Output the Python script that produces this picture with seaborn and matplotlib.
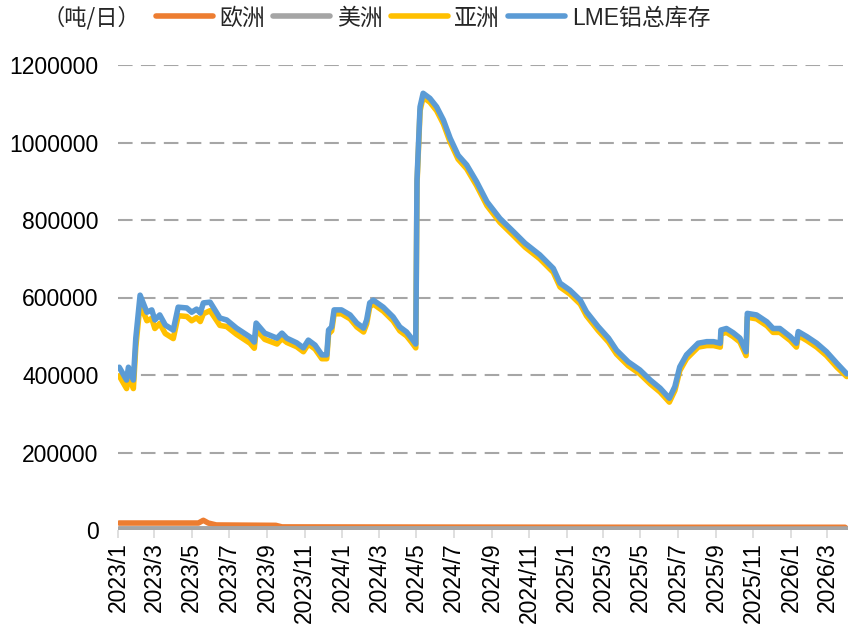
import pandas as pd
import numpy as np
import matplotlib.pyplot as plt
import matplotlib.dates as mdates
from matplotlib.ticker import FuncFormatter
import seaborn as sns

# ---------- data (tonnes) ----------
total_dates = [
    "2023-01-03", "2023-01-15", "2023-01-18", "2023-01-26", "2023-01-30", "2023-02-06",
    "2023-02-17", "2023-02-25", "2023-03-02", "2023-03-10", "2023-03-19", "2023-04-01",
    "2023-04-09", "2023-04-23", "2023-05-01", "2023-05-09", "2023-05-15", "2023-05-20",
    "2023-05-31", "2023-06-16", "2023-06-27", "2023-07-13", "2023-08-04", "2023-08-11",
    "2023-08-14", "2023-08-28", "2023-09-17", "2023-09-25", "2023-10-03", "2023-10-19",
    "2023-10-30", "2023-11-07", "2023-11-18", "2023-11-29", "2023-12-07", "2023-12-10",
    "2023-12-15", "2023-12-19", "2023-12-31", "2024-01-14", "2024-01-25", "2024-02-05",
    "2024-02-10", "2024-02-15", "2024-02-21", "2024-03-08", "2024-03-24", "2024-04-04",
    "2024-04-15", "2024-04-23", "2024-04-30", "2024-05-02", "2024-05-07", "2024-05-12",
    "2024-05-23", "2024-06-03", "2024-06-14", "2024-06-25", "2024-07-08", "2024-07-22",
    "2024-08-07", "2024-08-24", "2024-09-14", "2024-10-06", "2024-10-25", "2024-11-18",
    "2024-12-10", "2024-12-21", "2025-01-06", "2025-01-23", "2025-02-02", "2025-02-21",
    "2025-03-10", "2025-03-23", "2025-04-11", "2025-04-30", "2025-05-17", "2025-06-02",
    "2025-06-17", "2025-06-26", "2025-07-04", "2025-07-15", "2025-08-03", "2025-08-17",
    "2025-08-28", "2025-09-08", "2025-09-09", "2025-09-18", "2025-09-29", "2025-10-10",
    "2025-10-20", "2025-10-22", "2025-11-06", "2025-11-23", "2025-12-03", "2025-12-14",
    "2025-12-31", "2026-01-10", "2026-01-13", "2026-01-27", "2026-02-12", "2026-02-28",
    "2026-03-17", "2026-04-02",
]
total_stock = [
    420000, 387000, 420000, 387000, 495000, 606000,
    562000, 568000, 542000, 555000, 529000, 516000,
    575000, 573000, 562000, 570000, 560000, 586000,
    588000, 547000, 542000, 521000, 498000, 485000,
    534000, 508000, 495000, 508000, 495000, 483000,
    470000, 490000, 477000, 452000, 452000, 516000,
    524000, 568000, 568000, 555000, 534000, 521000,
    542000, 586000, 593000, 575000, 550000, 524000,
    511000, 495000, 480000, 903000, 1092000, 1127000,
    1114000, 1092000, 1058000, 1011000, 967000, 942000,
    899000, 847000, 804000, 770000, 740000, 710000,
    675000, 637000, 619000, 593000, 563000, 525000,
    495000, 464000, 434000, 413000, 387000, 366000,
    340000, 370000, 421000, 452000, 482000, 486000,
    486000, 482000, 516000, 520000, 509000, 495000,
    460000, 559000, 555000, 537000, 520000, 520000,
    499000, 482000, 512000, 499000, 482000, 460000,
    430000, 403000,
]
asia_stock = [
    398000, 365000, 398000, 365000, 473000, 584000,
    540000, 546000, 520000, 533000, 507000, 494000,
    553000, 551000, 540000, 548000, 538000, 558000,
    566000, 528000, 525000, 505000, 482000, 469000,
    518000, 492000, 480000, 494000, 484000, 473000,
    460000, 480000, 467000, 442000, 442000, 506000,
    514000, 558000, 558000, 545000, 524000, 511000,
    532000, 576000, 583000, 565000, 540000, 514000,
    501000, 485000, 470000, 893000, 1082000, 1117000,
    1104000, 1082000, 1048000, 1001000, 957000, 932000,
    889000, 837000, 794000, 760000, 730000, 700000,
    665000, 627000, 609000, 583000, 553000, 515000,
    485000, 454000, 424000, 403000, 377000, 356000,
    330000, 360000, 411000, 442000, 472000, 476000,
    476000, 472000, 506000, 510000, 499000, 485000,
    450000, 549000, 545000, 527000, 510000, 510000,
    489000, 472000, 502000, 489000, 472000, 450000,
    420000, 396000,
]
europe_dates = [
    "2023-01-03", "2023-05-12", "2023-05-20", "2023-05-28", "2023-06-10", "2023-09-15",
    "2023-09-25", "2024-06-01", "2025-06-01", "2026-03-30", "2026-04-03",
]
europe_stock = [
    18000, 18000, 25000, 18000, 13000, 12000,
    8000, 7500, 7000, 7000, 2000,
]
america_dates = ["2023-01-03", "2024-06-01", "2025-06-01", "2026-04-03"]
america_stock = [3000, 3000, 2500, 2500]

series_names = ["欧洲", "美洲", "亚洲", "LME铝总库存"]
series_colors = ["#ED7D31", "#A5A5A5", "#FFC000", "#5B9BD5"]

# ---------- style ----------
sns.set_theme(style="white")
plt.rcParams["font.family"] = ["Liberation Sans", "Noto Sans CJK SC", "DejaVu Sans"]

fig = plt.figure(figsize=(8.48, 6.32), dpi=100)
ax = fig.add_axes([118 / 848, 1 - 530 / 632, 1 - 118 / 848, (530 - 65) / 632])

frames = [
    (europe_dates, europe_stock),
    (america_dates, america_stock),
    (total_dates, asia_stock),
    (total_dates, total_stock),
]
for (d, v), name, col in zip(frames, series_names, series_colors):
    df = pd.DataFrame({"date": pd.to_datetime(d), "value": v})
    sns.lineplot(data=df, x="date", y="value", ax=ax, color=col, linewidth=4,
                 label=name, legend=False, solid_capstyle="round", solid_joinstyle="round")

# axes
ax.set_ylim(0, 1200000)
ax.set_xlim(pd.Timestamp("2023-01-01"), pd.Timestamp("2026-04-04"))
ax.set_yticks(np.arange(0, 1200001, 200000))
ax.yaxis.set_major_formatter(FuncFormatter(lambda v, p: f"{int(v)}"))
ax.xaxis.set_major_locator(mdates.MonthLocator(bymonth=[1, 3, 5, 7, 9, 11]))
ax.xaxis.set_major_formatter(FuncFormatter(
    lambda x, p: f"{mdates.num2date(x).year}/{mdates.num2date(x).month}"))
ax.set_xlabel("")
ax.set_ylabel("")
for s in ax.spines.values():
    s.set_visible(False)
ax.grid(axis="y", color="#A6A6A6", linewidth=1.5, linestyle=(0, (7, 4)))
ax.grid(axis="x", visible=False)
ax.set_axisbelow(True)
ax.tick_params(axis="y", length=0, pad=14, labelsize=16.5, labelcolor="black")
ax.tick_params(axis="x", length=6, width=1.2, color="#D9D9D9", pad=3,
               labelsize=16.5, labelcolor="black", rotation=90, bottom=True)

# legend + unit
handles, labels = ax.get_legend_handles_labels()
fig.legend(handles, labels, loc="center", bbox_to_anchor=(433 / 848, 1 - 18 / 632),
           ncol=4, frameon=False, fontsize=16.5, handlelength=2.5,
           handletextpad=0.28, columnspacing=0.35, borderpad=0)
fig.text(43 / 848, 1 - 18 / 632, "（吨/日）", fontsize=16, va="center", ha="left",
         family=["Noto Sans CJK SC", "DejaVu Sans"])

fig.savefig("out.png", dpi=100)
